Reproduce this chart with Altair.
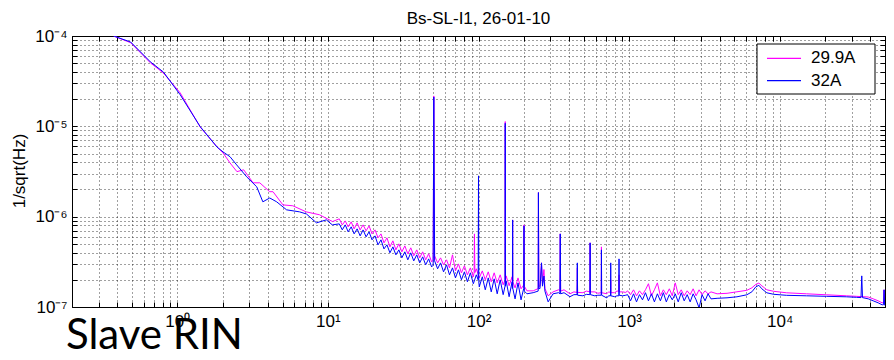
import altair as alt
import pandas as pd

SERIES = ["29.9A", "32A"]
COLORS = ["#ff00ff", "#0000ff"]

# ---- 29.9A (magenta) ----
M_LOW_F = [0.378, 0.49, 0.664, 0.809, 1.047, 1.418, 1.836, 2.013, 2.238, 2.49, 2.76, 3.19, 3.53, 4.11, 4.32, 5.03, 5.85, 7.18, 8.79, 10.74]
M_LOW_V = [1.0e-4, 8.43e-5, 5.03e-5, 3.90e-5, 2.34e-5, 9.85e-6, 5.92e-6, 5.08e-6, 3.94e-6, 3.15e-6, 3.30e-6, 2.37e-6, 2.37e-6, 1.89e-6, 1.89e-6, 1.35e-6, 1.32e-6, 1.13e-6, 1.05e-6, 8.83e-7]
# ---- 32A (blue) ----
B_LOW_F = [0.378, 0.49, 0.664, 0.809, 1.047, 1.418, 1.836, 2.013, 2.24, 2.48, 2.89, 3.37, 3.70, 4.11, 4.57, 5.32, 6.49, 7.21, 8.40, 9.77, 10.7]
B_LOW_V = [1.0e-4, 8.58e-5, 5.16e-5, 3.99e-5, 2.23e-5, 9.95e-6, 5.9e-6, 5.21e-6, 4.61e-6, 3.74e-6, 2.76e-6, 2.14e-6, 1.46e-6, 1.61e-6, 1.46e-6, 1.19e-6, 1.13e-6, 1.07e-6, 8.54e-7, 9.22e-7, 8.11e-7]

NOISE_F = [11.9, 12.46, 13.04, 13.64, 14.28, 14.94, 15.64, 16.37, 17.13, 17.93,
           18.77, 19.64, 20.56, 21.52, 22.52, 23.57, 24.67, 25.82, 27.02, 28.28,
           29.60, 30.97, 32.42, 33.93, 35.51, 37.17, 38.90, 40.71, 42.61, 44.59,
           46.67, 48.85, 51.12, 53.51, 56.00, 58.61, 61.34, 64.20, 67.19, 70.32,
           73.60, 77.03, 80.62, 84.38, 88.31, 92.43, 96.73, 101.2, 106.0, 110.9,
           116.1, 121.5, 127.1, 133.1, 139.3, 145.8, 152.6, 159.7, 167.1, 174.9,
           183.0, 191.6, 209.8]
M_NOISE_V = [9.46e-7, 8.11e-7, 8.98e-7, 7.71e-7, 8.76e-7, 7.33e-7, 8.54e-7, 7.14e-7, 8.11e-7, 6.97e-7,
             7.91e-7, 6.45e-7, 7.14e-7, 5.83e-7, 6.45e-7, 5.13e-7, 5.83e-7, 4.63e-7, 5.40e-7, 4.29e-7,
             5.00e-7, 4.08e-7, 4.75e-7, 3.88e-7, 4.52e-7, 3.69e-7, 4.29e-7, 3.50e-7, 4.08e-7, 3.33e-7,
             3.88e-7, 3.16e-7, 3.69e-7, 3.08e-7, 3.50e-7, 2.93e-7, 3.33e-7, 2.71e-7, 3.78e-7, 2.51e-7,
             3.00e-7, 2.39e-7, 2.86e-7, 2.27e-7, 2.71e-7, 2.16e-7, 2.65e-7, 2.10e-7, 2.51e-7, 2.00e-7,
             2.45e-7, 1.90e-7, 2.39e-7, 1.85e-7, 2.27e-7, 1.76e-7, 2.21e-7, 1.72e-7, 2.16e-7, 1.63e-7,
             2.10e-7, 1.59e-7, 1.51e-7]
B_NOISE_V = [8.32e-7, 7.14e-7, 8.11e-7, 6.79e-7, 7.71e-7, 6.45e-7, 7.33e-7, 6.13e-7, 7.14e-7, 5.98e-7,
             6.79e-7, 5.54e-7, 6.13e-7, 4.88e-7, 5.54e-7, 4.40e-7, 4.88e-7, 3.98e-7, 4.63e-7, 3.78e-7,
             4.29e-7, 3.50e-7, 4.08e-7, 3.33e-7, 3.98e-7, 3.24e-7, 3.78e-7, 3.08e-7, 3.59e-7, 2.93e-7,
             3.41e-7, 2.78e-7, 3.24e-7, 2.65e-7, 3.08e-7, 2.45e-7, 2.93e-7, 2.27e-7, 2.71e-7, 2.10e-7,
             2.58e-7, 2.00e-7, 2.45e-7, 1.90e-7, 2.39e-7, 1.81e-7, 2.27e-7, 1.67e-7, 2.16e-7, 1.55e-7,
             2.10e-7, 1.47e-7, 2.05e-7, 1.40e-7, 2.00e-7, 1.37e-7, 1.95e-7, 1.30e-7, 1.90e-7, 1.23e-7,
             1.85e-7, 1.20e-7, 1.40e-7]

MID_F = [230.7, 256, 262, 266, 272, 276, 290, 312.6, 340, 369.7, 404.8, 430, 493.3, 520, 592, 620, 710.5, 730, 802, 830, 906, 950]
M_MID_V = [1.51e-7, 1.7e-7, 3.08e-7, 1.8e-7, 2.6e-7, 1.6e-7, 1.33e-7, 1.47e-7, 1.55e-7, 1.55e-7, 1.40e-7, 1.47e-7, 1.44e-7, 1.5e-7, 1.47e-7, 1.42e-7, 1.40e-7, 1.47e-7, 1.44e-7, 1.5e-7, 1.47e-7, 1.45e-7]
B_MID_V = [1.44e-7, 1.6e-7, 3.08e-7, 1.7e-7, 2.2e-7, 1.5e-7, 1.14e-7, 1.40e-7, 1.44e-7, 1.44e-7, 1.30e-7, 1.37e-7, 1.33e-7, 1.38e-7, 1.33e-7, 1.35e-7, 1.26e-7, 1.33e-7, 1.30e-7, 1.33e-7, 1.33e-7, 1.35e-7]

BAND_F = [977, 1022, 1070, 1120, 1172, 1227, 1284, 1344, 1407, 1472, 1541, 1613, 1688, 1766, 1849,
          1935, 2025, 2119, 2218, 2321, 2430, 2543, 2661, 2785, 2915, 3051, 3193, 3342, 3498]
M_BAND_V = [1.51e-7, 1.37e-7, 1.55e-7, 1.33e-7, 1.51e-7, 1.37e-7, 1.55e-7, 1.81e-7, 1.33e-7, 1.55e-7,
            1.85e-7, 1.33e-7, 1.55e-7, 1.37e-7, 1.59e-7, 1.33e-7, 1.85e-7, 1.37e-7, 1.55e-7, 1.33e-7,
            1.51e-7, 1.37e-7, 1.59e-7, 1.33e-7, 1.55e-7, 1.37e-7, 1.51e-7, 1.40e-7, 1.47e-7]
B_BAND_V = [1.37e-7, 1.17e-7, 1.40e-7, 1.14e-7, 1.37e-7, 1.20e-7, 1.44e-7, 1.17e-7, 1.40e-7, 1.14e-7,
            1.40e-7, 1.17e-7, 1.44e-7, 1.14e-7, 1.37e-7, 1.20e-7, 1.40e-7, 1.14e-7, 1.44e-7, 1.17e-7,
            1.37e-7, 1.14e-7, 1.40e-7, 1.20e-7, 9.8e-8, 1.37e-7, 1.17e-7, 1.40e-7, 1.23e-7]

SMOOTH_F = [3839, 4469, 5200, 6050, 6536, 6944, 7270, 7607, 8209, 9129, 11120, 15080, 20400, 27700, 32240, 38690, 41700, 45030, 47860, 50800]
M_SMOOTH_V = [1.40e-7, 1.418e-7, 1.473e-7, 1.53e-7, 1.631e-7, 1.783e-7, 1.838e-7, 1.716e-7, 1.55e-7, 1.492e-7,
              1.436e-7, 1.40e-7, 1.365e-7, 1.33e-7, 1.313e-7, 1.29e-7, 1.232e-7, 1.171e-7, 1.113e-7, 1.085e-7]
B_SMOOTH_V = [1.248e-7, 1.264e-7, 1.297e-7, 1.365e-7, 1.473e-7, 1.673e-7, 1.738e-7, 1.59e-7, 1.436e-7, 1.382e-7,
              1.347e-7, 1.33e-7, 1.313e-7, 1.297e-7, 1.28e-7, 1.232e-7, 1.171e-7, 1.113e-7, 1.057e-7, 1.057e-7]

M_SPIKES = [(50.0, 3.3e-7), (50.5, 2.17e-5),
            (93.5, 2.4e-7), (94.0, 6.45e-7), (94.6, 2.4e-7),
            (150.0, 2.0e-7), (150.5, 1.13e-5), (151.0, 2.0e-7),
            (168.0, 1.9e-7), (168.5, 9.2e-7), (169.0, 1.9e-7),
            (199.5, 1.75e-7), (200.5, 8.11e-7), (201.5, 1.7e-7),
            (249.0, 1.6e-7), (250.0, 1.85e-6), (251.5, 1.7e-7),
            (347, 1.5e-7), (349, 6.45e-7), (351, 1.5e-7),
            (451, 1.45e-7), (453, 2.71e-7), (455, 1.45e-7),
            (549, 1.47e-7), (551, 5.13e-7), (553, 1.47e-7),
            (653, 1.44e-7), (655, 4.63e-7), (657, 1.44e-7),
            (753, 1.45e-7), (755, 2.0e-7), (757, 1.44e-7),
            (855, 1.5e-7), (857, 2.27e-7), (859, 1.47e-7),
            (48900, 1.12e-7), (49300, 1.55e-7), (49700, 1.1e-7)]
B_SPIKES = [(50.0, 2.9e-7), (50.5, 2.11e-5),
            (99.5, 2.0e-7), (100.0, 2.83e-6), (100.5, 1.9e-7),
            (150.0, 1.7e-7), (150.5, 1.08e-5), (151.0, 1.7e-7),
            (168.0, 1.6e-7), (168.5, 9.2e-7), (169.0, 1.6e-7),
            (199.5, 1.6e-7), (200.5, 7.91e-7), (201.5, 1.5e-7),
            (249.0, 1.5e-7), (250.0, 1.85e-6), (251.5, 1.6e-7),
            (347, 1.4e-7), (349, 6.45e-7), (351, 1.4e-7),
            (451, 1.37e-7), (453, 3.08e-7), (455, 1.35e-7),
            (549, 1.37e-7), (551, 5.13e-7), (553, 1.37e-7),
            (653, 1.35e-7), (655, 4.29e-7), (657, 1.35e-7),
            (753, 1.33e-7), (755, 3.08e-7), (757, 1.33e-7),
            (855, 1.33e-7), (857, 3.41e-7), (859, 1.35e-7),
            (34650, 1.27e-7), (35050, 2.21e-7), (35450, 1.27e-7),
            (48900, 1.06e-7), (49300, 1.55e-7), (49700, 1.05e-7)]

X_MAJOR = [1, 10, 100, 1000, 10000]
X_LABELS = ["10⁰", "10¹", "10²", "10³", "10⁴"]
Y_MAJOR = [1e-7, 1e-6, 1e-5, 1e-4]
Y_LABELS = ["10⁻⁷", "10⁻⁶", "10⁻⁵", "10⁻⁴"]
X_DOMAIN = [0.2, 50000]
Y_DOMAIN = [1e-7, 1e-4]
TITLE = "Bs-SL-I1, 26-01-10"
Y_TITLE = "1/sqrt(Hz)"
NOTE = "Slave RIN"

FONT = "Liberation Sans"
W, H = 813, 271


def build(name, parts, spikes):
    rows = []
    for fs, vs in parts:
        rows += list(zip(fs, vs))
    rows += spikes
    rows.sort(key=lambda r: r[0])
    return pd.DataFrame({"f": [r[0] for r in rows], "v": [r[1] for r in rows], "s": name, "k": range(len(rows))})


data = pd.concat([
    build(SERIES[0], [(M_LOW_F, M_LOW_V), (NOISE_F, M_NOISE_V), (MID_F, M_MID_V), (BAND_F, M_BAND_V), (SMOOTH_F, M_SMOOTH_V)], M_SPIKES),
    build(SERIES[1], [(B_LOW_F, B_LOW_V), (NOISE_F, B_NOISE_V), (MID_F, B_MID_V), (BAND_F, B_BAND_V), (SMOOTH_F, B_SMOOTH_V)], B_SPIKES),
], ignore_index=True)


def grid_vals(lo, hi, kmin, kmax):
    out = []
    for k in range(kmin, kmax + 1):
        for m in range(1, 10):
            val = round(m * 10.0 ** k, 12)
            if lo * 0.999 <= val <= hi * 1.001:
                out.append(val)
    return out


x_grid = grid_vals(X_DOMAIN[0], X_DOMAIN[1], -1, 4)
y_grid = grid_vals(Y_DOMAIN[0], Y_DOMAIN[1], -7, -4)


def label_expr(vals, labels):
    e = "''"
    for v, l in reversed(list(zip(vals, labels))):
        e = f"datum.value == {v!r} ? '{l}' : ({e})"
    return e


xs = alt.Scale(type="log", domain=X_DOMAIN, nice=False)
ys = alt.Scale(type="log", domain=Y_DOMAIN, nice=False)

common = dict(grid=True, gridDash=[1, 3], gridColor="#000000", gridOpacity=0.75, gridWidth=1,
              ticks=False, domain=False, labelFont=FONT, labelFontSize=17, labelColor="black",
              labelOverlap=False, labelFlush=False, title=None)

lines = alt.Chart(data).mark_line(strokeWidth=1, clip=True).encode(
    x=alt.X("f:Q", scale=xs, axis=alt.Axis(orient="bottom", values=x_grid, labelExpr=label_expr(X_MAJOR, X_LABELS),
                                           labelPadding=6, **common)),
    y=alt.Y("v:Q", scale=ys, axis=alt.Axis(orient="left", values=y_grid, labelExpr=label_expr(Y_MAJOR, Y_LABELS),
                                           labelPadding=5, **common)),
    color=alt.Color("s:N", scale=alt.Scale(domain=SERIES, range=COLORS), legend=None),
    order="k:Q",
)


def tick_axis(orient, vals):
    return alt.Axis(orient=orient, values=vals, labels=False, grid=False, domain=False, ticks=True,
                    tickSize=5, offset=-5, tickColor="black", tickWidth=1, title=None)


tick_src = data.head(2)
ticks_tr = alt.Chart(tick_src).mark_point(opacity=0).encode(
    x=alt.X("f:Q", scale=xs, axis=tick_axis("top", x_grid)),
    y=alt.Y("v:Q", scale=ys, axis=tick_axis("right", y_grid)),
)
ticks_bl = alt.Chart(tick_src).mark_point(opacity=0).encode(
    x=alt.X("f:Q", scale=xs, axis=tick_axis("bottom", x_grid)),
    y=alt.Y("v:Q", scale=ys, axis=tick_axis("left", y_grid)),
)


def text_layer(s, x, y, size, font=FONT, angle=0, align="center", baseline="middle"):
    return alt.Chart(pd.DataFrame({"t": [s]})).mark_text(
        font=font, fontSize=size, angle=angle, align=align, baseline=baseline, color="black"
    ).encode(text="t:N", x=alt.value(x), y=alt.value(y))


# legend (drawn manually as a MATLAB-style box)
LX = W - 128
legend_box = alt.Chart(pd.DataFrame({"a": [0]})).mark_rect(fill="white", stroke="black", strokeWidth=1).encode(
    x=alt.value(LX), x2=alt.value(LX + 118), y=alt.value(8), y2=alt.value(58))
legend_layers = [legend_box]
for i, (name, col) in enumerate(zip(SERIES, COLORS)):
    yy = 22.3 + i * 22.4
    legend_layers.append(alt.Chart(pd.DataFrame({"a": [0]})).mark_rule(color=col, strokeWidth=1.2).encode(
        x=alt.value(LX + 10), x2=alt.value(LX + 44), y=alt.value(yy)))
    legend_layers.append(text_layer(name, LX + 54, yy, 17, align="left"))

chart = alt.layer(
    lines, ticks_tr, ticks_bl,
    *legend_layers,
    text_layer(TITLE, W / 2, -17, 17),
    text_layer(Y_TITLE, -52, 135, 17, angle=270),
    text_layer(NOTE, -6, 313, 42, font="Lato", align="left", baseline="alphabetic"),
).resolve_axis(x="independent", y="independent").properties(
    width=W, height=H,
    autosize=alt.AutoSizeParams(type="none"),
    padding={"left": 64, "top": 28, "right": 1, "bottom": 45},
    background="white",
).configure_view(stroke="black", strokeWidth=1)

chart.save("out.html", embed_options={"renderer": "svg", "actions": False})
